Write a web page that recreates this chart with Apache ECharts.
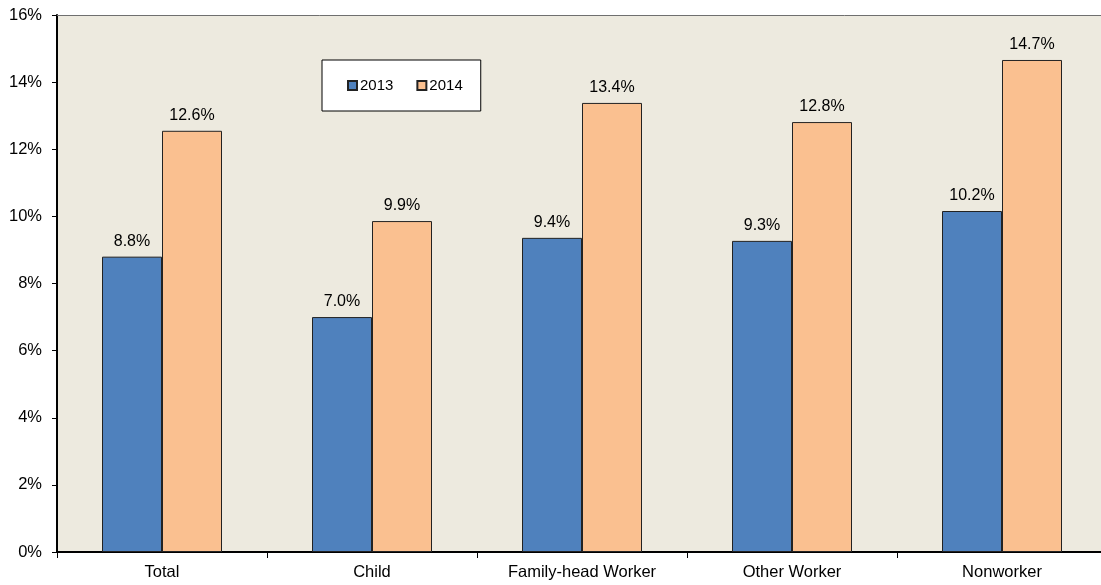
<!DOCTYPE html>
<html>
<head>
<meta charset="utf-8">
<script src="https://cdn.jsdelivr.net/npm/echarts@6/dist/echarts.min.js"></script>
<style>
html,body{margin:0;padding:0;background:#fff;overflow:hidden;}
#c{width:1110px;height:585px;}
</style>
</head>
<body>
<div id="c"></div>
<script>
const categories = ['Total', 'Child', 'Family-head Worker', 'Other Worker', 'Nonworker'];
const series2013 = [8.8, 7.0, 9.36, 9.27, 10.16];
const series2014 = [12.55, 9.86, 13.38, 12.81, 14.66];
const yTicks = [0, 2, 4, 6, 8, 10, 12, 14, 16];

const chart = echarts.init(document.getElementById('c'), null, {renderer: 'canvas'});
const font = 'Liberation Sans, Arial, sans-serif';
const labelCfg = {
  show: true, position: 'top', distance: 7,
  fontFamily: font, fontSize: 16, color: '#000',
  formatter: p => p.value.toFixed(1) + '%'
};
chart.setOption({
  animation: false,
  textStyle: {fontFamily: font},
  grid: {
    left: 57, top: 15, width: 1050, bottom: 33,
    show: true, backgroundColor: '#EDEADF', borderWidth: 0,
    containLabel: false
  },
  legend: {
    left: 322, top: 60,
    padding: [18, 18, 18, 25],
    itemGap: 23, itemWidth: 9, itemHeight: 9,
    backgroundColor: '#fff', borderColor: '#000', borderWidth: 1,
    icon: 'rect',
    textStyle: {fontFamily: font, fontSize: 15, color: '#000', padding: [0, 0, 0, -2]},
    data: ['2013', '2014']
  },
  xAxis: [
    {
      type: 'category', data: categories,
      axisLine: {lineStyle: {color: '#000', width: 2}},
      axisTick: {show: true, length: 6, lineStyle: {color: '#000', width: 1}},
      axisLabel: {fontFamily: font, fontSize: 16.5, color: '#000', margin: 12}
    },
    {
      type: 'category', data: categories, position: 'top',
      axisLine: {show: true, lineStyle: {color: '#6f6f6f', width: 1}},
      axisTick: {show: false}, axisLabel: {show: false}
    }
  ],
  yAxis: {
    type: 'value', min: yTicks[0], max: yTicks[yTicks.length - 1], interval: 2,
    axisLine: {show: true, lineStyle: {color: '#000', width: 2}},
    axisTick: {show: true, length: 5, lineStyle: {color: '#000', width: 1}},
    splitLine: {show: false},
    axisLabel: {fontFamily: font, fontSize: 16.5, color: '#000', margin: 15, formatter: v => v + '%'}
  },
  series: [
    {
      name: '2013', type: 'bar', data: series2013, barWidth: 60, barGap: '0%',
      itemStyle: {color: '#4F81BD', borderColor: '#222', borderWidth: 1},
      label: labelCfg
    },
    {
      name: '2014', type: 'bar', data: series2014, barWidth: 60, barGap: '0%',
      itemStyle: {color: '#FAC090', borderColor: '#222', borderWidth: 1},
      label: labelCfg
    }
  ]
});
</script>
</body>
</html>
